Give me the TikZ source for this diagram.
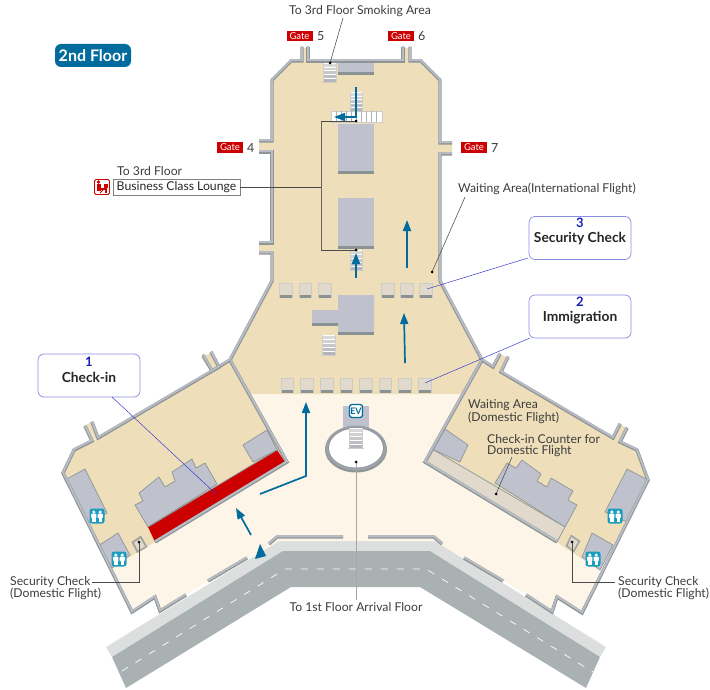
\documentclass[tikz,border=0pt]{standalone}
\usepackage{fontspec}
\setmainfont{Lato}
\usetikzlibrary{arrows.meta,shapes.geometric,calc}
\definecolor{tanfloor}{HTML}{EEDFBA}
\definecolor{creamfloor}{HTML}{FDF5E7}
\definecolor{blockgray}{HTML}{BFC2CC}
\definecolor{blockdark}{HTML}{8B9294}
\definecolor{walllight}{HTML}{B8BDC5}
\definecolor{wallmid}{HTML}{8F9597}
\definecolor{road}{HTML}{A9B1B3}
\definecolor{roadedge}{HTML}{DCDFDD}
\definecolor{beige}{HTML}{E0D9CC}
\definecolor{gatered}{HTML}{CC0000}
\definecolor{arrowblue}{HTML}{006B9C}
\definecolor{wcblue}{HTML}{1C9DBF}
\definecolor{callline}{HTML}{3A3AD0}
\definecolor{callbox}{HTML}{8C8CE6}
\definecolor{numblue}{HTML}{1C1CB4}
\definecolor{leader}{HTML}{4A4A4A}
\definecolor{txt}{HTML}{3C3C3C}
\tikzset{
  block/.style={fill=blockgray},
  wingblock/.style={fill=blockgray,draw=wallmid,line width=0.7pt,line join=round},
  mapa/.style={draw=arrowblue,line width=1.7pt,-{Triangle[length=11pt,width=8pt]}},
  leadline/.style={draw=leader,line width=0.55pt},
  callink/.style={draw=callline,line width=0.5pt},
  dotmark/.style={fill=black,circle,inner sep=0pt,minimum size=3pt},
  lbl/.style={font=\fontsize{12.2}{11}\selectfont,text=txt,inner sep=0pt,align=left},
  callout/.style={draw=callbox,line width=0.7pt,rounded corners=6pt,fill=white,minimum width=102pt,minimum height=43pt,inner sep=0pt},
  gatebox/.style={fill=gatered,text=white,font=\fontsize{9.5}{10}\selectfont,minimum width=26pt,minimum height=10.5pt,inner sep=0pt},
  gatenum/.style={font=\fontsize{12.5}{13}\selectfont,text=txt,inner sep=0pt},
  calltitle/.style={font=\bfseries\fontsize{13.8}{14}\selectfont,text=black!85,inner sep=0pt},
  callnum/.style={text=numblue,font=\bfseries\fontsize{13}{13}\selectfont,inner sep=0pt},
  pics/wc/.style={code={
    \fill[wcblue,rounded corners=2.5pt] (-7.5,-7.5) rectangle (7.5,7.5);
    \foreach \d in {-3.2,3.2}{
      \fill[white] (\d,-4) circle (1.7pt);
      \fill[white,rounded corners=0.8pt] (\d-2.6,-2.4) rectangle (\d+2.6,2.2);
      \fill[white] (\d-1.7,2) rectangle (\d+1.7,6);
    }
  }}
}
\newcommand{\wallpath}[1]{%
  \draw[wallmid,line width=3.4pt,line join=miter] #1;
  \draw[walllight,line width=1.9pt,line join=miter,yshift=0.7pt] #1;}
\newcommand{\stairflight}[4]{% x, ytop, w, h
  \foreach \i in {0,...,4}{
    \pgfmathsetmacro{\shade}{100-\i*17}
    \fill[white!\shade!blockgray!85!black] ({#1},{#2+\i*#4/5}) rectangle ({#1+#3},{#2+(\i+1)*#4/5});
    \draw[white,line width=0.5pt] ({#1},{#2+\i*#4/5}) -- ({#1+#3},{#2+\i*#4/5});
  }
  \draw[blockgray!60!tanfloor,line width=0.7pt] (#1,#2) -- (#1,#2+#4) (#1+#3,#2) -- (#1+#3,#2+#4) (#1-1.5,#2+#4) -- (#1+#3+1.5,#2+#4);}
\newcommand{\counterbox}[2]{% x, ytop
  \fill[blockgray!70!tanfloor] (#1-1,#2-1) rectangle (#1+12.5,#2+14);
  \fill[beige] (#1,#2) rectangle (#1+11.5,#2+11);
  \fill[blockdark] (#1,#2+11) rectangle (#1+11.5,#2+14);}
\begin{document}
\begin{tikzpicture}[x=1pt,y=-1pt]
\useasboundingbox (0,0) rectangle (710,690);
% road
\fill[roadedge] (106,647) -- (279,541) -- (435,541) -- (606,647) -- (600,657) -- (430,551) -- (283,551) -- (112,657) -- cycle;
\fill[road] (112,657) -- (283,551) -- (430,551) -- (600,657) -- (586,688) -- (420,587) -- (291,587) -- (126,688) -- cycle;
\draw[white,line width=0.7pt,dash pattern=on 7pt off 9pt] (122,671) -- (285,569) -- (426,569) -- (593,672);
% cream floor
\fill[creamfloor] (249,394) -- (463,394) -- (425,462) -- (557,542) -- (600,570) -- (582,613) -- (557,596) -- (552,611) -- (526,594) -- (435,541) -- (279,541) -- (186,594) -- (160,610) -- (155,597) -- (132,612) -- (112,568) -- (155,542) -- (287,462) -- cycle;
% tan floors
\fill[tanfloor] (249,394) -- (230,360) -- (272,281) -- (272,253) -- (259,253) -- (259,243) -- (272,243) -- (272,151) -- (259,151) -- (259,141) -- (272,141) -- (272,80) -- (291,61) -- (302,61) -- (302,48) -- (308,48) -- (308,61) -- (403,61) -- (403,48) -- (410,48) -- (410,61) -- (421,61) -- (440,80) -- (440,143) -- (452,143) -- (452,153) -- (440,153) -- (440,281) -- (482,360) -- (463,394) -- cycle;
\fill[tanfloor] (230,360) -- (287,462) -- (155,542) -- (130,557) -- (112,568) -- (63,473) -- (74,450) -- (92,441) -- (98,438) -- (212,372) -- cycle;
\fill[tanfloor] (482,360) -- (425,462) -- (557,542) -- (565,548) -- (600,570) -- (648,480) -- (637,450) -- (613,438) -- (502,372) -- cycle;
\fill[tanfloor] (201,358) -- (210,353) -- (219,366) -- (211,371) -- cycle;
\fill[tanfloor] (500,354) -- (508,358) -- (500,371) -- (492,366) -- cycle;
\fill[tanfloor] (85,426) -- (92,421) -- (99,436) -- (92,441) -- cycle;
\fill[tanfloor] (619,424) -- (627,428) -- (620,442) -- (613,438) -- cycle;
% gray blocks, left wing
\fill[wingblock] (135,505) -- (143,501) -- (139,493) -- (159,477) -- (165,487) -- (175,481) -- (172,472) -- (192,459) -- (196,468) -- (205,463) -- (217,484) -- (148,527) -- cycle;
\fill[wingblock] (243,445) -- (267,430) -- (277,450) -- (253,462) -- cycle;
\fill[wingblock] (65,480) -- (85,469) -- (107,513) -- (89,523) -- cycle;
\fill[wingblock] (98,546) -- (118,533) -- (130,555) -- (112,568) -- cycle;
\fill[gatered] (148,527) -- (277,450) -- (285,462) -- (155,542) -- cycle;
\draw[wallmid,line width=0.8pt] (148,527) -- (277,450);
% gray blocks, right wing
\fill[wingblock] (445,429) -- (468,445) -- (460,462) -- (432,449) -- cycle;
\fill[wingblock] (507,463) -- (516,468) -- (522,460) -- (541,474) -- (537,481) -- (547,487) -- (551,478) -- (573,491) -- (568,500) -- (577,505) -- (565,527) -- (495,483) -- cycle;
\fill[beige,draw=wallmid,line width=0.7pt] (432,449) -- (565,527) -- (557,542) -- (425,462) -- cycle;
\fill[wingblock] (627,469) -- (648,480) -- (627,522) -- (605,512) -- cycle;
\fill[wingblock] (592,533) -- (613,545) -- (600,570) -- (582,557) -- cycle;
% small security boxes
\fill[wallmid!80!tanfloor] (131.5,542) -- (141,535.5) -- (147.5,547) -- (137,553) -- cycle;
\fill[beige] (134,542.5) -- (140.5,538.5) -- (145,546.5) -- (138,550.5) -- cycle;
\fill[wallmid!80!tanfloor] (571,534.5) -- (580.5,541) -- (574,552.5) -- (565.5,546) -- cycle;
\fill[beige] (571.5,537) -- (578,541.5) -- (573.5,550) -- (568,545.5) -- cycle;
% central blocks
\fill[block] (338,62) rectangle (374,73);
\fill[blockdark] (338,72) rectangle (374,75);
\fill[block] (338,124) rectangle (374,171);
\fill[blockdark] (338,171) rectangle (374,174);
\fill[block] (338,198) rectangle (374,246);
\fill[blockdark] (338,246) rectangle (374,249);
\fill[block] (338,295) -- (374,295) -- (374,332) -- (338,332) -- (338,323) -- (312,323) -- (312,310) -- (338,310) -- cycle;
\fill[blockdark] (338,332) rectangle (374,335);
\fill[blockdark] (312,323) rectangle (338,326);
% counters
\foreach \cx in {280,299.5,319,382,401,420}{\counterbox{\cx}{284}}
\foreach \cx in {281.5,301,321,340.5,360,379.5,399,419}{\counterbox{\cx}{378.5}}
% stairs
\stairflight{323}{63}{13}{19}
\stairflight{350}{250}{12}{20}
\stairflight{322}{335}{13}{20}
\stairflight{350}{92}{12}{19}
\fill[white] (331,111) rectangle (382,122);
\draw[blockgray!70!tanfloor,line width=0.7pt] (331,111) rectangle (382,122);
\foreach \sx in {336,341,346,351,356,361,366,371,376}{\draw[blockdark!70,line width=0.4pt] (\sx,111) -- (\sx,122);}
% elevator court
\fill[blockgray] (343,406) rectangle (369,432);
\fill[wallmid] (356,449.5) ellipse (31pt and 23pt);
\fill[walllight!85!black] (356,448) ellipse (30.5pt and 22.5pt);
\fill[wallmid] (356,447.5) ellipse (28pt and 20pt);
\fill[white] (356,448) ellipse (27pt and 19.5pt);
\stairflight{349.5}{428}{13}{20}
% walls
\wallpath{(302,47) -- (302,61) -- (291,61) -- (272,80) -- (272,141) -- (259,141)}
\wallpath{(259,152) -- (272,152) -- (272,243) -- (259,243)}
\wallpath{(259,253) -- (272,253) -- (272,281) -- (230,360) -- (287,462) -- (155,542)}
\wallpath{(308,47) -- (308,61) -- (403,61) -- (403,47)}
\wallpath{(410,47) -- (410,61) -- (421,61) -- (440,80) -- (440,143) -- (452,143)}
\wallpath{(452,154) -- (440,154) -- (440,281) -- (482,360) -- (425,462) -- (557,542)}
\wallpath{(482,360) -- (493,367) -- (500,354)}
\wallpath{(230,360) -- (212,371) -- (203,355)}
\wallpath{(211,352) -- (219,367) -- (98,438) -- (92,422)}
\wallpath{(85,426) -- (92,441) -- (74,450) -- (63,473) -- (132,612) -- (155,597) -- (160,611) -- (186,595)}
\wallpath{(508,357) -- (501,372) -- (613,438) -- (620,424)}
\wallpath{(627,428) -- (620,442) -- (637,450) -- (648,480) -- (582,613) -- (557,597) -- (552,612) -- (526,595)}
\wallpath{(269,544) -- (277,537) -- (343,537)}
\wallpath{(368,537) -- (434,537) -- (442,544)}
\wallpath{(208,581) -- (247,558)}
\wallpath{(464,558) -- (503,581)}
% route arrows
\draw[mapa] (356,87) -- (356,117) -- (334,117);
\draw[mapa] (356,278) -- (356,253);
\draw[mapa] (407,268) -- (407,220);
\draw[mapa] (405,363) -- (404,313);
\draw[mapa] (260,494) -- (306,476) -- (306,402);
\draw[mapa] (251,535) -- (236,508);
\fill[arrowblue] (260,544) -- (266,556) -- (255,559) -- cycle;
% restrooms
\pic at (97,516) {wc};
\pic at (119,559) {wc};
\pic at (615,516) {wc};
\pic at (593,559) {wc};
% EV badge
\node[draw=arrowblue,line width=1.3pt,fill=white,rounded corners=2.5pt,text=arrowblue,font=\bfseries\fontsize{9}{9}\selectfont,minimum width=13pt,minimum height=13pt,inner sep=0pt] (ev) at (356,411) {EV};
% title and gates
\node[fill=arrowblue,rounded corners=6pt,text=white,font=\bfseries\fontsize{16}{16}\selectfont,minimum width=76pt,minimum height=23pt,inner sep=0pt] (title) at (93,55.5) {2nd Floor};
\node[gatebox] (g5) at (299.5,36) {Gate};
\node[gatenum,anchor=west] (n5) at (317,36) {5};
\node[gatebox] (g6) at (401,36) {Gate};
\node[gatenum,anchor=west] (n6) at (418,36) {6};
\node[gatebox] (g4) at (230,147.5) {Gate};
\node[gatenum,anchor=west] (n4) at (247,148) {4};
\node[gatebox] (g7) at (474,147.5) {Gate};
\node[gatenum,anchor=west] (n7) at (491,148) {7};
% labels
\node[lbl] (smoking) at (360,11) {To 3rd Floor Smoking Area};
\node[lbl,anchor=west] (lounge3) at (117,171) {To 3rd Floor};
\node[draw=gray,line width=0.6pt,fill=white,minimum width=127pt,minimum height=16pt,inner sep=0pt,font=\fontsize{12.2}{13}\selectfont,text=black!85] (lounge) at (176.5,187) {Business Class Lounge};
% lounge icon
\node[draw=gatered,line width=0.8pt,fill=white,rounded corners=1.5pt,minimum width=15pt,minimum height=15pt,inner sep=0pt] (loungeicon) at (102,187) {};
\fill[gatered] (98.5,182) circle (1.8pt);
\fill[gatered] (96.5,184.5) rectangle (100.5,191.5);
\fill[gatered] (96.5,188) rectangle (107,190);
\fill[gatered] (104,184) rectangle (108,188.5);
\fill[gatered] (105,190) rectangle (107,193);
\draw[gatered,line width=1pt] (103,190) -- (100,193);
% waiting labels
\node[lbl,anchor=west] (intl) at (458,189) {Waiting Area(International Flight)};
\node[lbl,anchor=west] (wdom) at (468,411.5) {Waiting Area\\(Domestic Flight)};
\node[lbl,anchor=west] (cdom) at (487,445.5) {Check-in Counter for\\Domestic Flight};
\node[lbl,anchor=west] (secr) at (618,588) {Security Check\\(Domestic Flight)};
\node[lbl,anchor=west] (secl) at (10,588) {Security Check\\(Domestic Flight)};
\node[lbl] (arr) at (356,607) {To 1st Floor Arrival Floor};
% callouts
\node[callout] (c1) at (89,375.5) {};
\node[callnum] (c1n) at (89,361.5) {1};
\node[calltitle] (c1t) at (89,377) {Check-in};
\node[callout] (c2) at (580,316.5) {};
\node[callnum] (c2n) at (580,302) {2};
\node[calltitle] (c2t) at (580,318) {Immigration};
\node[callout] (c3) at (580,238) {};
\node[callnum] (c3n) at (580,223) {3};
\node[calltitle] (c3t) at (580,239) {Security Check};
% leader end points
\coordinate (pstairtop) at (330,63);
\coordinate (ploungea) at (356,121);
\coordinate (ploungeb) at (356,250);
\coordinate (pintl) at (432,272);
\coordinate (pcdom) at (496,494);
\coordinate (psecr) at (572,542);
\coordinate (psecl) at (139,542);
\coordinate (pev) at (356,462);
\coordinate (pcheck) at (216,494);
\coordinate (pimm) at (425,383);
\coordinate (psc) at (427,289);
% leaders
\draw[leadline] (343,18) -- (pstairtop);
\draw[leadline] (lounge.east) -- (321,187);
\draw[draw=black!55!tanfloor,line width=0.9pt] (321,121) -- (321,250);
\draw[leadline] (321,121) -- (ploungea);
\draw[leadline] (321,250) -- (ploungeb);
\draw[leadline] (465,197) -- (pintl);
\draw[leadline] (512,457) -- (pcdom);
\draw[leadline] (615,582) -- (572,582) -- (psecr);
\draw[leadline] (92,582) -- (139,582) -- (psecl);
\draw[draw=black!35,line width=1pt] (pev) -- (356,600);
\draw[callink] (112,397) -- (pcheck);
\draw[callink] (530,338) -- (pimm);
\draw[callink] (528,258) -- (psc);
\foreach \p in {pstairtop,ploungea,ploungeb,pintl,pcdom,psecr,psecl,pev}{\node[dotmark] at (\p) {};}
\end{tikzpicture}
\end{document}
